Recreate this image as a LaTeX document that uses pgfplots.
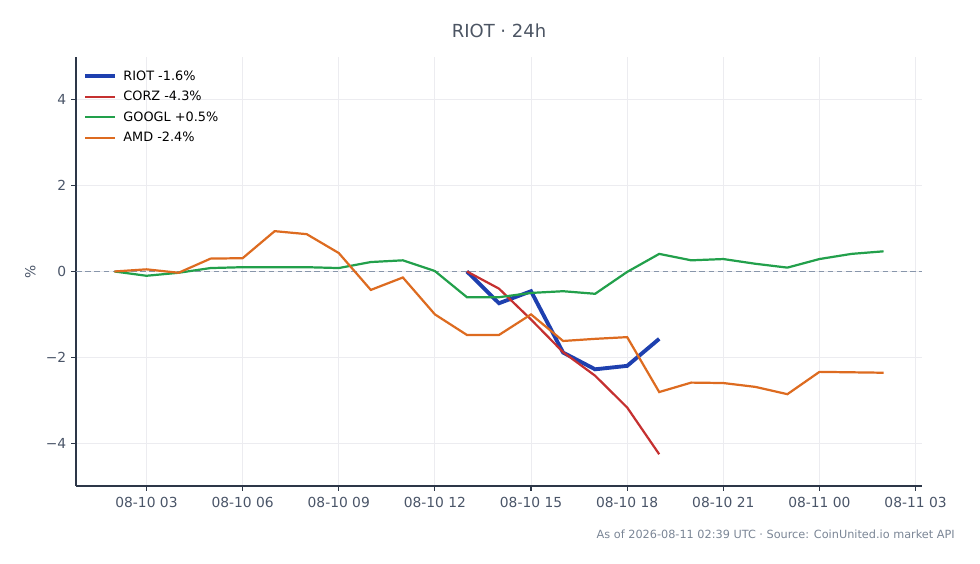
\documentclass[border=0pt]{standalone}
\usepackage{pgfplots}
\pgfplotsset{compat=1.18}
\usepackage{fontspec}
\setmainfont{DejaVu Sans}

\definecolor{riot}{HTML}{1E40AF}
\definecolor{corz}{HTML}{C53030}
\definecolor{googl}{HTML}{22A04B}
\definecolor{amd}{HTML}{DD6B20}
\definecolor{axisc}{HTML}{2D3748}
\definecolor{tickc}{HTML}{4A5568}
\definecolor{gridc}{HTML}{ECECF0}
\definecolor{zeroc}{HTML}{8896AB}
\definecolor{footc}{HTML}{7A8595}

% hours since 08-10 00:00 UTC, change in %
\pgfplotstableread{
h   v
13  0
14  -0.74
15  -0.46
16  -1.89
17  -2.28
18  -2.20
19  -1.57
}\riotdata
\pgfplotstableread{
h   v
13  0
14  -0.40
15  -1.12
16  -1.88
17  -2.43
18  -3.17
19  -4.26
}\corzdata
\pgfplotstableread{
h   v
2   0
3   -0.10
4   -0.03
5   0.08
6   0.10
7   0.10
8   0.10
9   0.08
10  0.22
11  0.26
12  0.01
13  -0.60
14  -0.60
15  -0.50
16  -0.46
17  -0.52
18  -0.01
19  0.41
20  0.26
21  0.29
22  0.18
23  0.09
24  0.29
25  0.41
26  0.47
}\googldata
\pgfplotstableread{
h   v
2   0
3   0.05
4   -0.03
5   0.30
6   0.31
7   0.94
8   0.87
9   0.43
10  -0.43
11  -0.14
12  -1.00
13  -1.48
14  -1.48
15  -1.00
16  -1.62
17  -1.57
18  -1.53
19  -2.81
20  -2.59
21  -2.60
22  -2.69
23  -2.86
24  -2.34
25  -2.35
26  -2.36
}\amddata

\begin{document}
\begin{tikzpicture}
\path[use as bounding box] (0bp,0bp) rectangle (705.6bp,406.08bp);

\begin{axis}[
    at={(54.72bp,56.16bp)}, anchor=south west,
    scale only axis,
    width=609.1bp, height=308.9bp,
    xmin=0.8, xmax=27.2,
    ymin=-5, ymax=5,
    axis x line*=bottom,
    axis y line*=left,
    axis line style={axisc, line width=0.8pt},
    xtick={3,6,...,27},
    xticklabels={08-10 03,08-10 06,08-10 09,08-10 12,08-10 15,08-10 18,08-10 21,08-11 00,08-11 03},
    ytick={-4,-2,0,2,4},
    yticklabels={−4,−2,0,2,4},
    tick align=outside,
    major tick length=3.5pt,
    tick style={axisc, line width=0.8pt},
    ticklabel style={font=\fontsize{10}{12}\selectfont, text=tickc},
    xticklabel style={yshift=-1pt},
    grid=major,
    grid style={gridc, line width=0.6pt},
    ylabel={\%},
    ylabel style={at={(axis description cs:-0.054,0.5)}, anchor=center, rotate=0,
                  font=\fontsize{10}{12}\selectfont, text=tickc},
    legend cell align=left,
    legend style={at={(axis description cs:0.005,0.982)}, anchor=north west,
                  draw=none, fill=none, font=\fontsize{9.3}{11}\selectfont,
                  row sep=2.4bp, inner sep=2pt,
                  nodes={inner xsep=4.5bp}},
    legend image code/.code={\draw[#1] (0bp,0bp) -- (21.6bp,0bp);},
]
\addplot[zeroc, line width=0.8pt, dash pattern=on 4bp off 2.6bp, forget plot]
    coordinates {(0.8,0) (27.2,0)};

\addplot[riot, line width=2.8pt] table[x=h, y=v] {\riotdata};
\addlegendentry{RIOT -1.6\%}
\addplot[corz, line width=1.6pt] table[x=h, y=v] {\corzdata};
\addlegendentry{CORZ -4.3\%}
\addplot[googl, line width=1.6pt] table[x=h, y=v] {\googldata};
\addlegendentry{GOOGL +0.5\%}
\addplot[amd, line width=1.6pt] table[x=h, y=v] {\amddata};
\addlegendentry{AMD -2.4\%}
\end{axis}

\node[text=axisc!85, font=\fontsize{13}{15}\selectfont] at (359.3bp,383.8bp) {RIOT · 24h};
\node[anchor=east, text=footc, font=\fontsize{8.15}{10}\selectfont, inner sep=0pt] at (687.6bp,21.6bp)
    {As of 2026-08-11 02:39 UTC · Source: CoinUnited.io market API};
\end{tikzpicture}
\end{document}
